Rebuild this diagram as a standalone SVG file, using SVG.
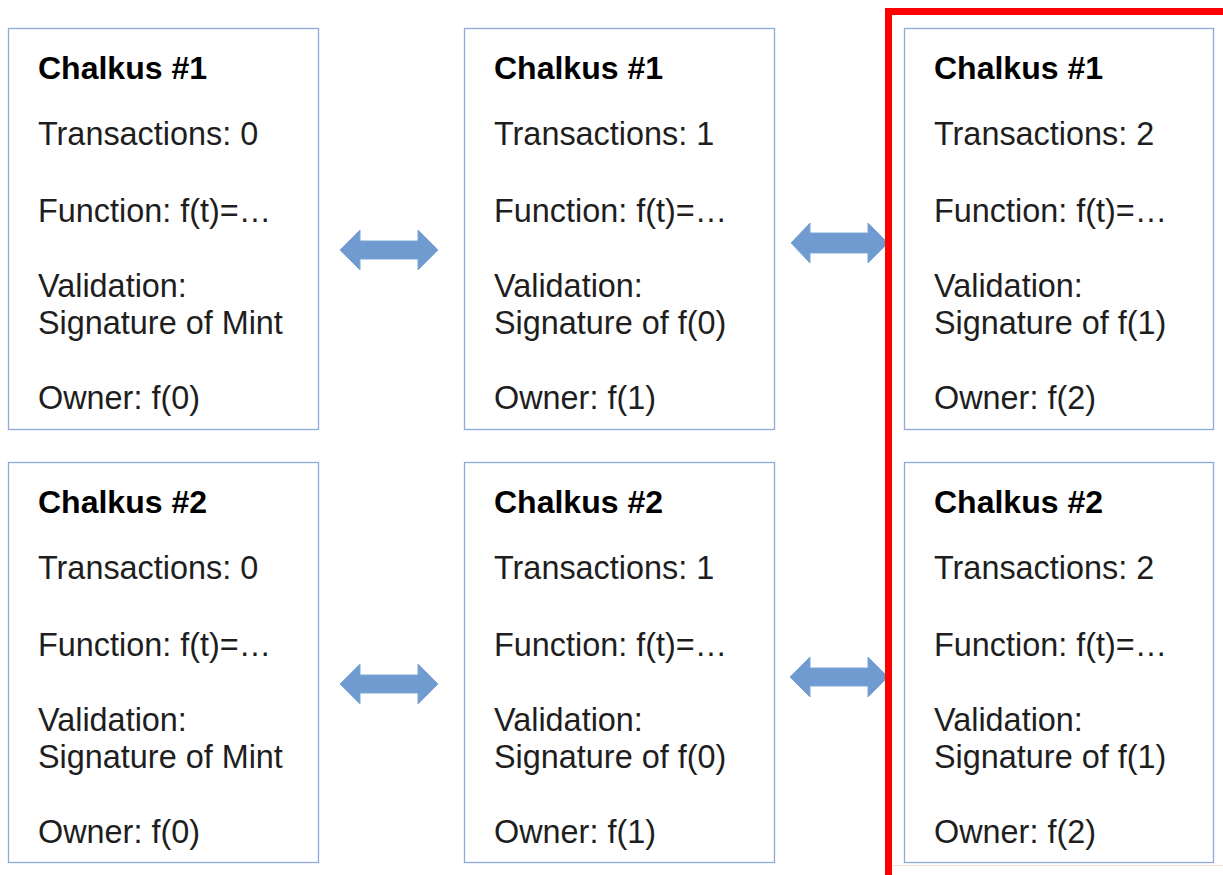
<svg xmlns="http://www.w3.org/2000/svg" width="1223" height="875" viewBox="0 0 1223 875">
<style>
.box{fill:#fff;stroke:#8eaadb;stroke-width:1.3}
.t{font-family:"Liberation Sans",Arial,sans-serif;font-size:32.4px;fill:#1e1e1e}
.h{font-weight:bold;fill:#000;font-size:32px}
.arr{fill:#6f9bd0;stroke:#7fa6d6;stroke-width:1}
</style>
<rect width="1223" height="875" fill="#fff"/>
<g id="c1r1">
<rect class="box" x="8.5" y="28.5" width="310" height="401"/>
<text class="t h" x="38" y="79">Chalkus #1</text>
<text class="t" x="38" y="145">Transactions: 0</text>
<text class="t" x="38" y="222">Function: f(t)=…</text>
<text class="t" x="38" y="297">Validation:</text>
<text class="t" x="38" y="334">Signature of Mint</text>
<text class="t" x="38" y="409">Owner: f(0)</text>
</g>
<g id="c2r1">
<rect class="box" x="464.5" y="28.5" width="310" height="401"/>
<text class="t h" x="494" y="79">Chalkus #1</text>
<text class="t" x="494" y="145">Transactions: 1</text>
<text class="t" x="494" y="222">Function: f(t)=…</text>
<text class="t" x="494" y="297">Validation:</text>
<text class="t" x="494" y="334">Signature of f(0)</text>
<text class="t" x="494" y="409">Owner: f(1)</text>
</g>
<g id="c3r1">
<rect class="box" x="904.5" y="28.5" width="309" height="401"/>
<text class="t h" x="934" y="79">Chalkus #1</text>
<text class="t" x="934" y="145">Transactions: 2</text>
<text class="t" x="934" y="222">Function: f(t)=…</text>
<text class="t" x="934" y="297">Validation:</text>
<text class="t" x="934" y="334">Signature of f(1)</text>
<text class="t" x="934" y="409">Owner: f(2)</text>
</g>
<g id="c1r2">
<rect class="box" x="8.5" y="462.5" width="310" height="400"/>
<text class="t h" x="38" y="513">Chalkus #2</text>
<text class="t" x="38" y="579">Transactions: 0</text>
<text class="t" x="38" y="656">Function: f(t)=…</text>
<text class="t" x="38" y="731">Validation:</text>
<text class="t" x="38" y="768">Signature of Mint</text>
<text class="t" x="38" y="843">Owner: f(0)</text>
</g>
<g id="c2r2">
<rect class="box" x="464.5" y="462.5" width="310" height="400"/>
<text class="t h" x="494" y="513">Chalkus #2</text>
<text class="t" x="494" y="579">Transactions: 1</text>
<text class="t" x="494" y="656">Function: f(t)=…</text>
<text class="t" x="494" y="731">Validation:</text>
<text class="t" x="494" y="768">Signature of f(0)</text>
<text class="t" x="494" y="843">Owner: f(1)</text>
</g>
<g id="c3r2">
<rect class="box" x="904.5" y="462.5" width="309" height="400"/>
<text class="t h" x="934" y="513">Chalkus #2</text>
<text class="t" x="934" y="579">Transactions: 2</text>
<text class="t" x="934" y="656">Function: f(t)=…</text>
<text class="t" x="934" y="731">Validation:</text>
<text class="t" x="934" y="768">Signature of f(1)</text>
<text class="t" x="934" y="843">Owner: f(2)</text>
</g>
<g id="connectors">
<polygon class="arr" points="340,250 360,230 360,241 418,241 418,230 438,250 418,270 418,259 360,259 360,270"/>
<polygon class="arr" points="791,243 810,223 810,233 868,233 868,223 888,243 868,263 868,253 810,253 810,263"/>
<polygon class="arr" points="340,684 360,664 360,675 418,675 418,664 438,684 418,704 418,693 360,693 360,704"/>
<polygon class="arr" points="790,677 810,657 810,668 868,668 868,657 888,677 868,697 868,686 810,686 810,697"/>
</g>
<g id="highlight">
<line x1="893" y1="865.5" x2="1223" y2="865.5" stroke="#ffd8d8" stroke-width="1"/>
<path d="M888.5,875 V11.5 H1230" fill="none" stroke="#ff0000" stroke-width="7"/>
</g>
</svg>
